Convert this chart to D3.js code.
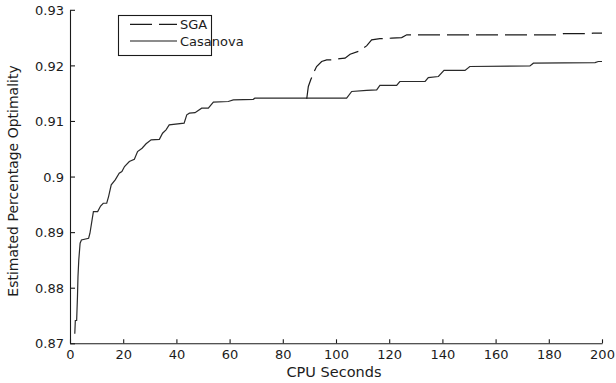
<!DOCTYPE html>
<html><head><meta charset="utf-8">
<script src="https://cdn.jsdelivr.net/npm/d3@7"></script>
<style>body{margin:0;background:#fff}svg{display:block}</style>
</head><body>
<svg id="c" width="616" height="383"></svg>
<script>
const casanovaTime = [1.8,2.0,2.5,2.8,3.0,3.3,3.8,4.3,7.0,7.5,8.3,8.8,10.4,11.5,12.5,13.8,14.5,15.5,17.0,18.5,19.5,20.5,22.3,24.2,25.4,27.1,28.6,30.5,33.6,34.8,36.1,37.3,42.9,43.9,44.9,47.0,49.5,52.0,53.9,59.5,61.4,68.9,69.5,104.0,105.9,111.5,115.3,116.5,122.8,124.0,133.5,134.7,138.5,140.6,148.5,150.3,172.9,174.2,197.4,198.6,200];
const casanovaValue = [0.8717,0.8741,0.8741,0.8783,0.8820,0.8850,0.8880,0.8886,0.8889,0.8898,0.8922,0.8937,0.8937,0.8947,0.8952,0.8952,0.8964,0.8985,0.8994,0.9006,0.9009,0.9018,0.9027,0.9031,0.9045,0.9051,0.9059,0.9066,0.9067,0.9078,0.9084,0.9093,0.9096,0.9111,0.9114,0.9115,0.9123,0.9123,0.9134,0.9135,0.9138,0.9139,0.9141,0.9141,0.9153,0.9155,0.9156,0.9164,0.9164,0.9171,0.9171,0.9178,0.9180,0.9191,0.9191,0.9198,0.9199,0.9204,0.9205,0.9207,0.9207];
const sgaTime = [89.0,89.6,90.5,91.5,92.7,94.6,96.5,98.4,101.5,103.4,105.3,108.8,111.5,113.4,116.5,120.9,124.7,126.6,184.0,185.5,195.5,196.6,200];
const sgaValue = [0.9140,0.9162,0.9174,0.9186,0.9198,0.9207,0.9210,0.9210,0.9212,0.9213,0.9220,0.9226,0.9235,0.9246,0.9248,0.9249,0.9250,0.9255,0.9255,0.9257,0.9257,0.9258,0.9258];
const xTicks = [0,20,40,60,80,100,120,140,160,180,200];
const yTicks = [0.87,0.88,0.89,0.90,0.91,0.92,0.93];
const yTickLabels = ["0.87","0.88","0.89","0.9","0.91","0.92","0.93"];
const seriesNames = ["SGA","Casanova"];

const svg = d3.select("#c");
const x = d3.scaleLinear().domain([0,200]).range([70,602]);
const y = d3.scaleLinear().domain([0.87,0.93]).range([343.3,9.8]);
const font = "DejaVu Sans, sans-serif";
const ink = "#1a1a1a";

// axes
const xa = svg.append("g").attr("transform","translate(0,343.3)")
  .call(d3.axisBottom(x).tickValues(xTicks).tickSizeInner(-4).tickSizeOuter(0).tickPadding(0));
const ya = svg.append("g").attr("transform","translate(70,0)")
  .call(d3.axisLeft(y).tickValues(yTicks).tickFormat((d,i)=>yTickLabels[i]).tickSizeInner(-5).tickSizeOuter(0).tickPadding(6));
[xa,ya].forEach(a=>{
  a.selectAll("path,line").attr("stroke",ink).attr("stroke-width",1.1);
  a.selectAll("text").attr("font-family",font).attr("font-size",13).attr("fill","#1c1c1c");
});
xa.selectAll("text").attr("y",15.3).attr("dy",null);
ya.selectAll("text").attr("dy","0.36em");

// lines
const casData = casanovaTime.map((t,i)=>[t,casanovaValue[i]]);
const sgaData = sgaTime.map((t,i)=>[t,sgaValue[i]]);
const line = d3.line().x(d=>x(d[0])).y(d=>y(d[1]));
svg.append("path").attr("d",line(casData)).attr("fill","none").attr("stroke","#2a2a2a").attr("stroke-width",1.2);
svg.append("path").attr("d",line(sgaData)).attr("fill","none").attr("stroke","#1a1a1a").attr("stroke-width",1.2).attr("stroke-dasharray","22,7");

// labels
svg.append("text").attr("x",334).attr("y",376.5).attr("text-anchor","middle")
  .attr("font-family",font).attr("font-size",14.5).attr("fill","#1c1c1c").text("CPU Seconds");
svg.append("text").attr("transform","translate(18,181) rotate(-90)").attr("text-anchor","middle")
  .attr("font-family",font).attr("font-size",14).attr("fill","#1c1c1c").text("Estimated Percentage Optimality");

// legend
const lg = svg.append("g");
lg.append("rect").attr("x",118.5).attr("y",15.5).attr("width",93).attr("height",40)
  .attr("fill","#fff").attr("stroke",ink).attr("stroke-width",1.1);
const rows = [24.3, 41];
seriesNames.forEach((n,i)=>{
  lg.append("line").attr("x1",130).attr("x2",177).attr("y1",rows[i]).attr("y2",rows[i])
    .attr("stroke",ink).attr("stroke-width",1.2).attr("stroke-dasharray", i===0 ? "22,7" : null);
  lg.append("text").attr("x",180).attr("y",rows[i]+5).attr("font-family",font).attr("font-size",13)
    .attr("fill","#1c1c1c").text(n);
});
</script>
</body></html>
